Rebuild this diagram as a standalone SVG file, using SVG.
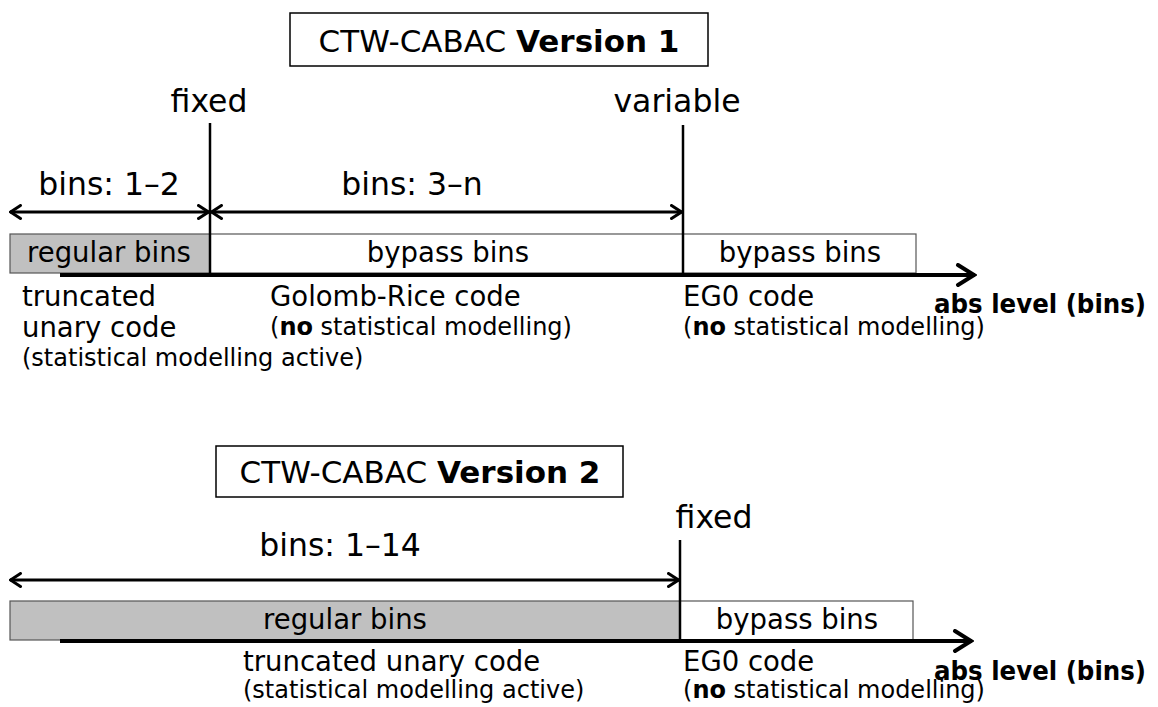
<svg xmlns="http://www.w3.org/2000/svg" width="1158" height="707" viewBox="0 0 1158 707">
<defs>
<marker id="ah" viewBox="0 0 14 16" refX="12.5" refY="8" markerWidth="14" markerHeight="16" markerUnits="userSpaceOnUse" orient="auto-start-reverse">
<path d="M2,1.5 L12,8 L2,14.5" fill="none" stroke="#000" stroke-width="3" stroke-linecap="round" stroke-linejoin="miter"/>
</marker>
<marker id="axh" viewBox="0 0 22 24" refX="20" refY="12" markerWidth="22" markerHeight="24" markerUnits="userSpaceOnUse" orient="auto">
<path d="M3,2 L19,12 L3,22" fill="none" stroke="#000" stroke-width="4" stroke-linecap="round"/>
</marker>
</defs>
<style>
text{font-family:"DejaVu Sans","Verdana",sans-serif;fill:#000}
.t{font-size:31px}
.l{font-size:31.5px}
.m{font-size:27.5px}
.s{font-size:24px}
.ab{font-size:26px;font-weight:bold}
.b{font-weight:bold}
.box{fill:#fff;stroke:#000;stroke-width:1.5}
.reg{fill:#c0c0c0;stroke:#555;stroke-width:1.2}
.byp{fill:#fff;stroke:#555;stroke-width:1.2}
.dim{stroke:#000;stroke-width:3;fill:none;marker-start:url(#ah);marker-end:url(#ah)}
.vl{stroke:#000;stroke-width:2.5}
.ax{stroke:#000;stroke-width:4;fill:none;marker-end:url(#axh)}
</style>
<rect width="1158" height="707" fill="#fff"/>

<g id="title1">
<rect class="box" x="290" y="13" width="418" height="53"/>
<text class="t" x="499" y="52" text-anchor="middle">CTW-CABAC <tspan class="b">Version 1</tspan></text>
</g>

<g id="v1-regular">
<rect class="reg" x="10" y="234" width="200" height="39"/>
<text class="m" x="109" y="262" text-anchor="middle">regular bins</text>
</g>
<g id="v1-bypass1">
<rect class="byp" x="210" y="234" width="473" height="39"/>
<text class="m" x="448" y="262" text-anchor="middle">bypass bins</text>
</g>
<g id="v1-bypass2">
<rect class="byp" x="683" y="234" width="233" height="39"/>
<text class="m" x="800" y="262" text-anchor="middle">bypass bins</text>
</g>

<g id="v1-labels">
<text class="l" x="209" y="112" text-anchor="middle">fixed</text>
<text class="l" x="677" y="112" text-anchor="middle">variable</text>
<text class="l" x="109" y="195" text-anchor="middle">bins: 1–2</text>
<text class="l" x="412" y="195" text-anchor="middle">bins: 3–n</text>
<text class="m" x="22" y="306">truncated</text>
<text class="m" x="22" y="337">unary code</text>
<text class="s" x="22" y="366">(statistical modelling active)</text>
<text class="m" x="270" y="306">Golomb-Rice code</text>
<text class="s" x="270" y="335">(<tspan class="b">no</tspan> statistical modelling)</text>
<text class="m" x="683" y="306">EG0 code</text>
<text class="s" x="683" y="335">(<tspan class="b">no</tspan> statistical modelling)</text>
<text class="ab" x="934" y="313" textLength="212" lengthAdjust="spacingAndGlyphs">abs level (bins)</text>
</g>

<g id="title2">
<rect class="box" x="216" y="446" width="407" height="51"/>
<text class="t" x="420" y="483" text-anchor="middle">CTW-CABAC <tspan class="b">Version 2</tspan></text>
</g>

<g id="v2-regular">
<rect class="reg" x="10" y="601" width="670" height="39"/>
<text class="m" x="345" y="629" text-anchor="middle">regular bins</text>
</g>
<g id="v2-bypass">
<rect class="byp" x="680" y="601" width="233" height="39"/>
<text class="m" x="797" y="629" text-anchor="middle">bypass bins</text>
</g>

<g id="v2-labels">
<text class="l" x="714" y="528" text-anchor="middle">fixed</text>
<text class="l" x="340" y="556" text-anchor="middle">bins: 1–14</text>
<text class="m" x="243" y="671">truncated unary code</text>
<text class="s" x="243" y="698">(statistical modelling active)</text>
<text class="m" x="683" y="671">EG0 code</text>
<text class="s" x="683" y="698">(<tspan class="b">no</tspan> statistical modelling)</text>
<text class="ab" x="934" y="680" textLength="212" lengthAdjust="spacingAndGlyphs">abs level (bins)</text>
</g>

<g id="connectors">
<line class="vl" x1="210" y1="123" x2="210" y2="273"/>
<line class="vl" x1="683" y1="125" x2="683" y2="273"/>
<line class="dim" x1="10" y1="212" x2="209" y2="212"/>
<line class="dim" x1="211" y1="212" x2="682" y2="212"/>
<path class="ax" d="M60,275 H975"/>
<line class="vl" x1="680" y1="540" x2="680" y2="640"/>
<line class="dim" x1="10" y1="580" x2="679" y2="580"/>
<path class="ax" d="M60,641 H972"/>
</g>
</svg>
